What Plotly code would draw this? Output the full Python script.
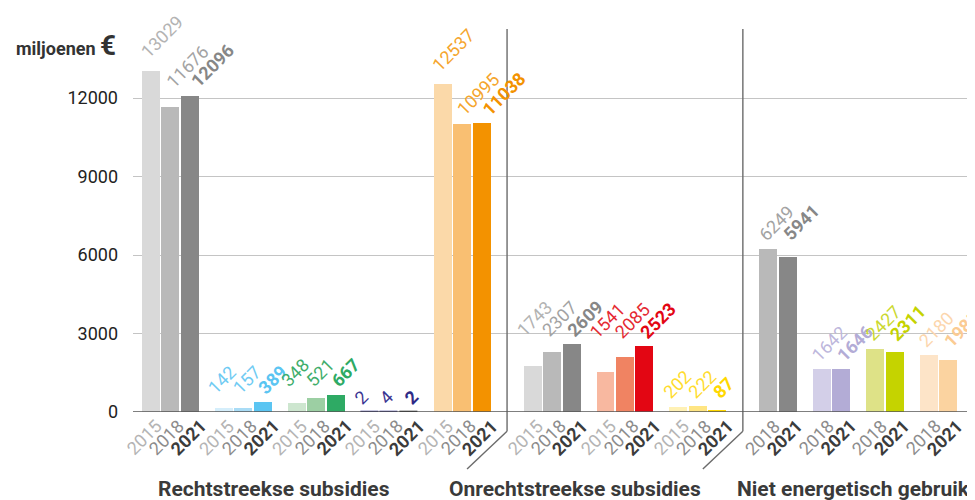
import plotly.graph_objects as go

# ---- data ----
section_titles = ["Rechtstreekse subsidies", "Onrechtstreekse subsidies", "Niet energetisch gebruik"]
years3 = ["2015", "2018", "2021"]
years2 = ["2018", "2021"]

rs_grey = [13029, 11676, 12096]
rs_blue = [142, 157, 389]
rs_green = [348, 521, 667]
rs_purple = [2, 4, 2]
rs_orange = [12537, 10995, 11038]
ors_grey = [1743, 2307, 2609]
ors_red = [1541, 2085, 2523]
ors_yellow = [202, 222, 87]
ne_grey = [6249, 5941]
ne_lavender = [1642, 1646]
ne_lime = [2427, 2311]
ne_peach = [2180, 1985]

y_ticks = [0, 3000, 6000, 9000, 12000]

# ---- styles ----
bar_cols = {
    "grey": {"2015": "#d9d9d9", "2018": "#b9b9b9", "2021": "#878787"},
    "blue": {"2015": "#d5eefb", "2018": "#a9dcf6", "2021": "#5bc5f2"},
    "green": {"2015": "#cde6cf", "2018": "#9ccfa3", "2021": "#2eaa64"},
    "purple": {"2015": "#2e2a86", "2018": "#2e2a86", "2021": "#111111"},
    "orange": {"2015": "#fbd9a9", "2018": "#f9bf72", "2021": "#f39200"},
    "red": {"2015": "#f8b8a0", "2018": "#f08362", "2021": "#e30613"},
    "yellow": {"2015": "#fff1b5", "2018": "#ffe582", "2021": "#ffd800"},
    "lavender": {"2018": "#d3cfe8", "2021": "#b3acd6"},
    "lime": {"2018": "#dee287", "2021": "#c5d300"},
    "peach": {"2018": "#fde4c8", "2021": "#fbd3a0"},
}
lab_cols = {
    "grey": {"2015": "#b3b3b3", "2018": "#a3a3a3", "2021": "#878787"},
    "blue": {"2015": "#6fcbf3", "2018": "#6fcbf3", "2021": "#5bc5f2"},
    "green": {"2015": "#3fae6c", "2018": "#3fae6c", "2021": "#2eaa64"},
    "purple": {"2015": "#3a3592", "2018": "#3a3592", "2021": "#2e2a86"},
    "orange": {"2015": "#f5a52c", "2018": "#f5a52c", "2021": "#f39200"},
    "red": {"2015": "#e52a33", "2018": "#e52a33", "2021": "#e30613"},
    "yellow": {"2015": "#ffdc2e", "2018": "#ffdc2e", "2021": "#ffd800"},
    "lavender": {"2018": "#bdb7dc", "2021": "#b3acd6"},
    "lime": {"2018": "#cbd82e", "2021": "#c5d300"},
    "peach": {"2018": "#fcd6ad", "2021": "#fbcb93"},
}
year_style = {"2015": ("#b4b4b4", False), "2018": ("#8c8c8c", False), "2021": ("#3c3c3c", True)}

sections = [
    [("grey", years3, rs_grey), ("blue", years3, rs_blue), ("green", years3, rs_green),
     ("purple", years3, rs_purple), ("orange", years3, rs_orange)],
    [("grey", years3, ors_grey), ("red", years3, ors_red), ("yellow", years3, ors_yellow)],
    [("grey", years2, ne_grey), ("lavender", years2, ne_lavender), ("lime", years2, ne_lime),
     ("peach", years2, ne_peach)],
]

GROUP_GAP = 0.74
SECTION_GAP = 0.875
BAR_W = 0.92
PX_PER_UNIT = 19.5
FONT = "Roboto"
LABEL_STEP = 25      # px between the diagonal value labels of one group
YEAR_SPREAD = 3      # extra px spread of the year labels


def label_levels(vals):
    """Value labels sit at the group's top; a 2015 bar that clearly towers over
    the rest keeps its own label level."""
    top = max(vals)
    if len(vals) == 3 and vals[0] == top and vals[0] > 1.05 * max(vals[1:]):
        rest = max(vals[1:])
        return [(vals[0], True)] + [(rest, False)] * (len(vals) - 1)
    return [(top, False)] * len(vals)


xs, ys, cols, lws, lcs = [], [], [], [], []
annotations = []
shapes = []
sec_bounds = []
pos = 0.0
for si, sec in enumerate(sections):
    sec_start = pos
    for gi, (cname, yrs, vals) in enumerate(sec):
        levels = label_levels(vals)
        n = len(vals)
        first_left = pos - BAR_W / 2
        has_solo = any(s for _, s in levels)
        lead = -5.5 if (n == 3 and not has_solo) else 0.0
        mid = (n - 1) / 2
        for i, (yr, v, (lvl, solo)) in enumerate(zip(yrs, vals, levels)):
            xs.append(pos)
            ys.append(v)
            cols.append(bar_cols[cname][yr])
            tiny = v < 20
            lws.append(1.2 if tiny else 0)
            lcs.append(bar_cols[cname][yr])
            bold = yr == "2021"
            txt = f"<b>{v}</b>" if bold else str(v)
            annotations.append(dict(
                x=first_left, y=lvl, xref="x", yref="y", text=txt, showarrow=False,
                textangle=-45, xanchor="left", yanchor="bottom",
                xshift=-8 + lead + i * LABEL_STEP,
                yshift=6 if solo else 1,
                font=dict(family=FONT, size=18, color=lab_cols[cname][yr])))
            ycol, ybold = year_style[yr]
            annotations.append(dict(
                x=pos, y=0, xref="x", yref="y", text=f"<b>{yr}</b>" if ybold else yr,
                showarrow=False, textangle=-45, xanchor="right", yanchor="top",
                xshift=20 + (i - mid) * YEAR_SPREAD, yshift=-1,
                font=dict(family=FONT, size=18, color=ycol)))
            pos += 1
        pos += GROUP_GAP
    sec_end = pos - GROUP_GAP - 1
    sec_bounds.append((sec_start, sec_end))
    pos += SECTION_GAP

x_min = -0.92
x_max = sec_bounds[-1][1] + 0.97

fig = go.Figure(go.Bar(
    x=xs, y=ys, width=BAR_W,
    marker=dict(color=cols, line=dict(width=lws, color=lcs)),
    hoverinfo="x+y", showlegend=False))

# separators between sections
seps = []
for si in range(len(sec_bounds) - 1):
    xsep = (sec_bounds[si][1] + sec_bounds[si + 1][0]) / 2
    seps.append(xsep)
    shapes.append(dict(type="line", xref="x", yref="paper", x0=xsep, x1=xsep, y0=1, y1=-0.05,
                       line=dict(color="#6b6b6b", width=1.4)))
    shapes.append(dict(type="line", xref="x", yref="paper", x0=xsep, x1=xsep - 40 / PX_PER_UNIT,
                       y0=-0.05, y1=-0.149, line=dict(color="#6b6b6b", width=1.4)))

# zero line
shapes.append(dict(type="line", xref="paper", yref="y", x0=0, x1=1, y0=0, y1=0,
                   line=dict(color="#555555", width=1.5)))

# section titles
title_pos = [
    (sec_bounds[0][0] - BAR_W / 2, "left", 14),
    (seps[1] - 40 / PX_PER_UNIT, "right", 0),
    (seps[1], "left", -8),
]
for (tx, anchor, shift), title in zip(title_pos, section_titles):
    annotations.append(dict(x=tx, y=-0.201, xref="x", yref="paper", text=f"<b>{title}</b>",
                            showarrow=False, xanchor=anchor, yanchor="middle", xshift=shift,
                            font=dict(family=FONT, size=21, color="#3a3a3a")))

# unit label
annotations.append(dict(
    x=0, y=1, xref="paper", yref="paper", xshift=-15, yshift=-16,
    text="<b>miljoenen</b> <b><span style='font-size:28px'>€</span></b>",
    showarrow=False, xanchor="right", yanchor="middle",
    font=dict(family=FONT, size=18, color="#333333")))

# the page body has an 8px margin: size the figure so the plot lands where it should
fig.update_layout(
    width=967, height=492,
    margin=dict(l=125, r=8, t=21, b=88),
    paper_bgcolor="white", plot_bgcolor="white",
    bargap=0,
    xaxis=dict(range=[x_min, x_max], showgrid=False, zeroline=False, showticklabels=False,
               ticks="", showline=False, fixedrange=True),
    yaxis=dict(range=[0, 14640], tickvals=y_ticks, ticktext=[str(v) for v in y_ticks],
               showgrid=True, gridcolor="#c4c4c4", gridwidth=1, zeroline=False,
               ticks="", ticklabelstandoff=14, showline=False,
               tickfont=dict(family=FONT, size=18, color="#222222"), fixedrange=True),
    annotations=annotations, shapes=shapes,
    font=dict(family=FONT),
)

fig.write_html("out.html")
